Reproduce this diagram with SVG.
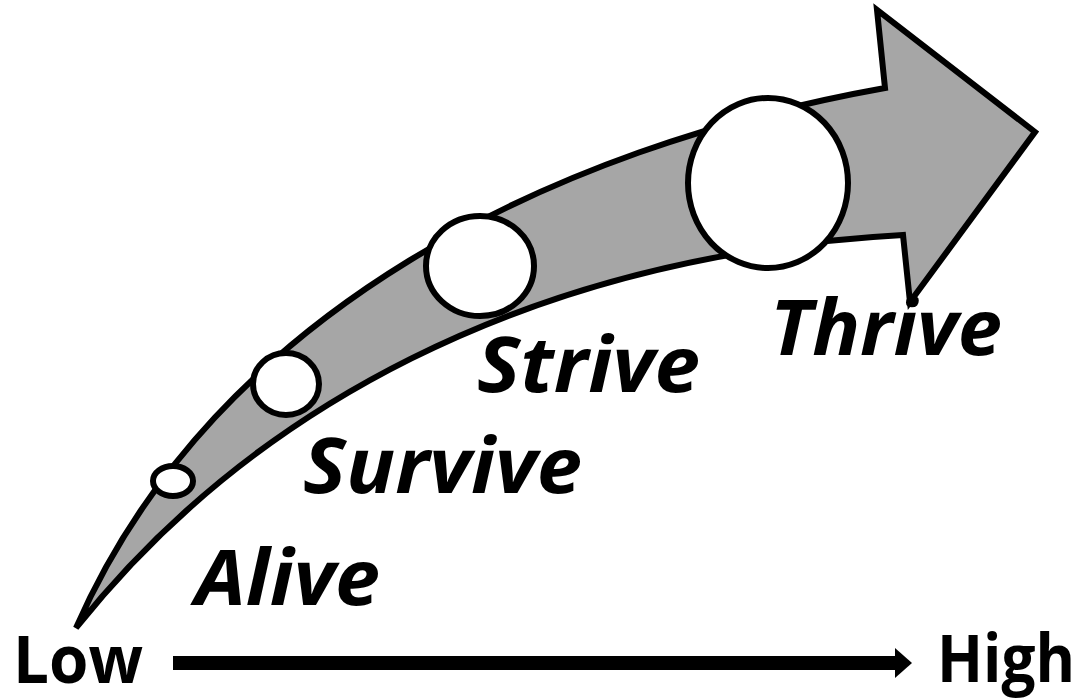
<svg xmlns="http://www.w3.org/2000/svg" width="1084" height="698" viewBox="0 0 1084 698">
<style>
.lbl{font-family:"Open Sans","Liberation Sans",sans-serif;font-weight:bold;font-style:italic;font-size:77px;fill:#000}
.axis{font-family:"Open Sans","Liberation Sans",sans-serif;font-weight:bold;font-size:67px;fill:#000}
.dot{fill:#fff;stroke:#000;stroke-width:6}
</style>
<rect width="1084" height="698" fill="#fff"/>
<g id="growth-arrow">
<path d="M76,628 C215,310 555,147 885,88 L877,10 L1035,132 L910,302 L903,235 C523,256 248,412 76,628 Z" fill="#a6a6a6" stroke="#000" stroke-width="6" stroke-linejoin="miter" stroke-miterlimit="4"/>
</g>
<g id="stage-alive"><ellipse class="dot" cx="173" cy="481" rx="20" ry="15"/><text class="lbl" x="195" y="605" textLength="185" lengthAdjust="spacingAndGlyphs">Alive</text></g>
<g id="stage-survive"><ellipse class="dot" cx="286" cy="384" rx="33" ry="31"/><text class="lbl" x="303" y="493" textLength="279" lengthAdjust="spacingAndGlyphs">Survive</text></g>
<g id="stage-strive"><ellipse class="dot" cx="480" cy="266" rx="54" ry="50"/><text class="lbl" x="477" y="392" textLength="223" lengthAdjust="spacingAndGlyphs">Strive</text></g>
<g id="stage-thrive"><ellipse class="dot" cx="768" cy="183" rx="80" ry="85"/><text class="lbl" x="770" y="355" textLength="232" lengthAdjust="spacingAndGlyphs">Thrive</text></g>
<g id="axis-low"><text class="axis" x="13" y="683" textLength="130" lengthAdjust="spacingAndGlyphs">Low</text></g>
<g id="axis-high"><text class="axis" x="937" y="682" textLength="138" lengthAdjust="spacingAndGlyphs">High</text></g>
<g id="connectors">
<rect x="173" y="656" width="725" height="14" fill="#000"/>
<polygon points="895,648 912,663 895,678" fill="#000"/>
</g>
</svg>
